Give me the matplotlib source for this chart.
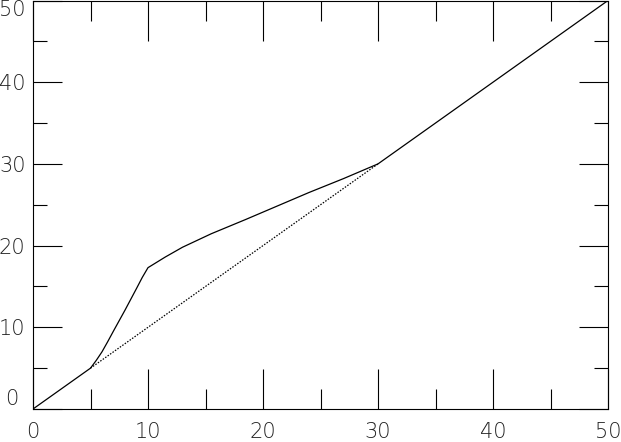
import matplotlib
matplotlib.use("Agg")
import matplotlib.pyplot as plt
from matplotlib.ticker import MultipleLocator

# valores
curva_x = [0, 5, 5.5, 6, 6.5, 7, 8, 9, 9.5, 10, 11.5, 13, 15.5, 18.5, 21.5, 24, 27, 30, 50]
curva_y = [0, 5, 5.95, 7.0, 8.25, 9.55, 12.1, 14.75, 16.1, 17.3, 18.6, 19.8, 21.45,
           23.2, 25.0, 26.5, 28.2, 30, 50]
recta_x = [5, 30]
recta_y = [5, 30]
ticks = [0, 10, 20, 30, 40, 50]

fig = plt.figure(figsize=(6.21, 4.42), dpi=100)
ax = fig.add_axes([33 / 621, 33 / 442, 575 / 621, 408.5 / 442])

ax.plot(curva_x, curva_y, color="black", lw=0.9)
ax.plot(recta_x, recta_y, color="black", lw=0.9, linestyle=(0, (1.2, 1.2)))

ax.set_xlim(0, 50)
ax.set_ylim(0, 50)
ax.set_xticks(ticks)
ax.set_yticks(ticks)
ax.xaxis.set_minor_locator(MultipleLocator(5))
ax.yaxis.set_minor_locator(MultipleLocator(5))

for s in ax.spines.values():
    s.set_linewidth(0.8)
    s.set_color("black")

ax.tick_params(axis="x", which="major", direction="in", length=29, width=0.8,
               top=True, labelsize=15, pad=9)
ax.tick_params(axis="x", which="minor", direction="in", length=14.5, width=0.8, top=True)
ax.tick_params(axis="y", which="major", direction="in", length=21, width=0.8,
               right=True, labelsize=15, pad=15)
ax.tick_params(axis="y", which="minor", direction="in", length=10, width=0.8, right=True)

for lab in ax.get_xticklabels() + ax.get_yticklabels():
    lab.set_fontweight("light")
    lab.set_color("#222222")
for lab in ax.get_yticklabels():
    lab.set_horizontalalignment("center")
ylabs = ax.get_yticklabels()
ylabs[0].set_verticalalignment("bottom")
ylabs[-1].set_verticalalignment("top")

fig.savefig("out.png", dpi=100)
